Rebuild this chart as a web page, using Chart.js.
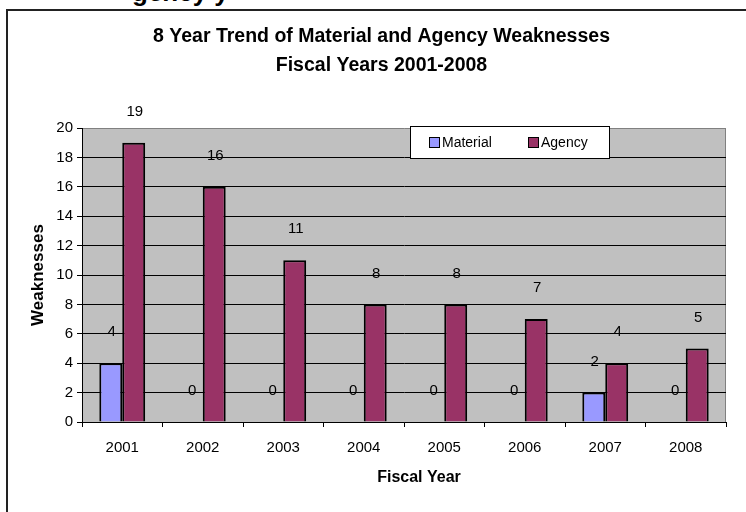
<!doctype html>
<html lang="en">
<head>
    <meta charset="utf-8">
    <title>8 Year Trend of Material and Agency Weaknesses</title>
    <style>
        * {
            margin: 0;
            padding: 0;
        }

        html, body {
            width: 746px;
            height: 512px;
            overflow: hidden;
            background: #fff;
            font-family: "Liberation Sans", Arial, sans-serif;
        }

        /* bottom of a line of text cut off above the chart */
        .cut {
            position: absolute;
            left: 132px;
            top: -21px;
            font: bold 26px/26px "Liberation Sans", Arial, sans-serif;
            white-space: pre;
        }

        .frame {
            position: absolute;
            left: 6px;
            top: 9px;
            width: 800px;
            height: 600px;
            border-top: 2px solid #222;
            border-left: 2px solid #222;
        }

        .chartBox {
            position: absolute;
            left: 0;
            top: 0;
            width: 746px;
            height: 512px;
        }
    </style>
</head>
<body>
    <div class="cut">gency y</div>
    <div class="frame"></div>
    <div class="chartBox">
        <canvas id="myChart"></canvas>
    </div>
    <script src="https://cdn.jsdelivr.net/npm/chart.js/dist/chart.umd.min.js"></script>
    <script>
        // data
        const years = ['2001', '2002', '2003', '2004', '2005', '2006', '2007', '2008'];
        const material = [4, 0, 0, 0, 0, 0, 2, 0];
        const agency = [19, 16, 11, 8, 8, 7, 4, 5];
        const seriesNames = ['Material', 'Agency'];
        const titleLines = ['8 Year Trend of Material and Agency Weaknesses', 'Fiscal Years 2001-2008'];
        const xTitle = 'Fiscal Year';
        const yTitle = 'Weaknesses';

        const FONT = '"Liberation Sans", Arial, sans-serif';
        const colors = ['#9999FF', '#993366'];

        // gray plot background + right border
        const plotArea = {
            id: 'plotArea',
            beforeDraw(chart) {
                const { ctx, chartArea: a } = chart;
                ctx.save();
                ctx.fillStyle = '#C0C0C0';
                ctx.fillRect(a.left, a.top, a.right - a.left, a.bottom - a.top);
                ctx.strokeStyle = '#808080';
                ctx.lineWidth = 1;
                ctx.beginPath();
                ctx.moveTo(Math.round(a.right) - 0.5, a.top);
                ctx.lineTo(Math.round(a.right) - 0.5, a.bottom);
                ctx.stroke();
                ctx.restore();
            }
        };

        // titles, value labels and the boxed legend
        const extras = {
            id: 'extras',
            afterDraw(chart) {
                const { ctx } = chart;
                ctx.save();
                ctx.fillStyle = '#000';
                ctx.textAlign = 'center';
                ctx.textBaseline = 'middle';

                ctx.font = 'bold 19.5px ' + FONT;
                ctx.fillText(titleLines[0], 381.5, 37);
                ctx.fillText(titleLines[1], 381.5, 66);

                ctx.font = 'bold 16px ' + FONT;
                ctx.fillText(xTitle, 419, 478);

                // values above bars
                ctx.font = '15px ' + FONT;
                chart.data.datasets.forEach((ds, i) => {
                    chart.getDatasetMeta(i).data.forEach((bar, j) => {
                        ctx.fillText(String(ds.data[j]), bar.x + 1, bar.y - 31);
                    });
                });

                // legend
                ctx.fillStyle = '#fff';
                ctx.fillRect(410, 126, 199, 32);
                ctx.strokeStyle = '#000';
                ctx.lineWidth = 1;
                ctx.strokeRect(410.5, 126.5, 199, 32);
                const sq = [429, 528];
                ctx.font = '14px ' + FONT;
                ctx.textAlign = 'left';
                chart.data.datasets.forEach((ds, i) => {
                    ctx.fillStyle = colors[i];
                    ctx.fillRect(sq[i], 137, 10, 10);
                    ctx.strokeRect(sq[i] + 0.5, 137.5, 10, 10);
                    ctx.fillStyle = '#000';
                    ctx.fillText(ds.label, sq[i] + 13, 143);
                });
                ctx.restore();
            }
        };

        const config = {
            type: 'bar',
            data: {
                labels: years,
                datasets: [
                    {
                        label: seriesNames[0],
                        data: material,
                        backgroundColor: colors[0],
                        borderColor: '#000',
                        borderWidth: 2
                    },
                    {
                        label: seriesNames[1],
                        data: agency,
                        backgroundColor: colors[1],
                        borderColor: '#000',
                        borderWidth: 2
                    }
                ]
            },
            options: {
                responsive: true,
                maintainAspectRatio: false,
                animation: false,
                categoryPercentage: 0.57,
                barPercentage: 1.0,
                layout: {
                    padding: { top: 128, left: 20, right: 20, bottom: 0 }
                },
                plugins: {
                    legend: { display: false },
                    title: { display: false },
                    tooltip: { enabled: false }
                },
                scales: {
                    x: {
                        afterFit: s => { s.height = 90; },
                        ticks: {
                            color: '#000',
                            padding: 12,
                            maxRotation: 0,
                            font: { size: 15, family: FONT }
                        },
                        grid: {
                            offset: true,
                            drawOnChartArea: false,
                            tickLength: 5,
                            color: '#000'
                        },
                        border: { color: '#000', width: 1 }
                    },
                    y: {
                        min: 0,
                        max: 20,
                        afterFit: s => { s.width = 62; },
                        ticks: {
                            stepSize: 2,
                            padding: 4,
                            color: '#000',
                            font: { size: 15, family: FONT }
                        },
                        grid: {
                            color: c => (c.tick && c.tick.value === 20 ? '#808080' : '#000'),
                            tickColor: '#000',
                            tickLength: 5
                        },
                        border: { color: '#000', width: 1 },
                        title: {
                            display: true,
                            text: yTitle,
                            color: '#000',
                            font: { size: 17, weight: 'bold', family: FONT },
                            padding: { top: 8, bottom: 0 }
                        }
                    }
                }
            },
            plugins: [plotArea, extras]
        };

        new Chart(document.getElementById('myChart'), config);
    </script>
</body>
</html>
